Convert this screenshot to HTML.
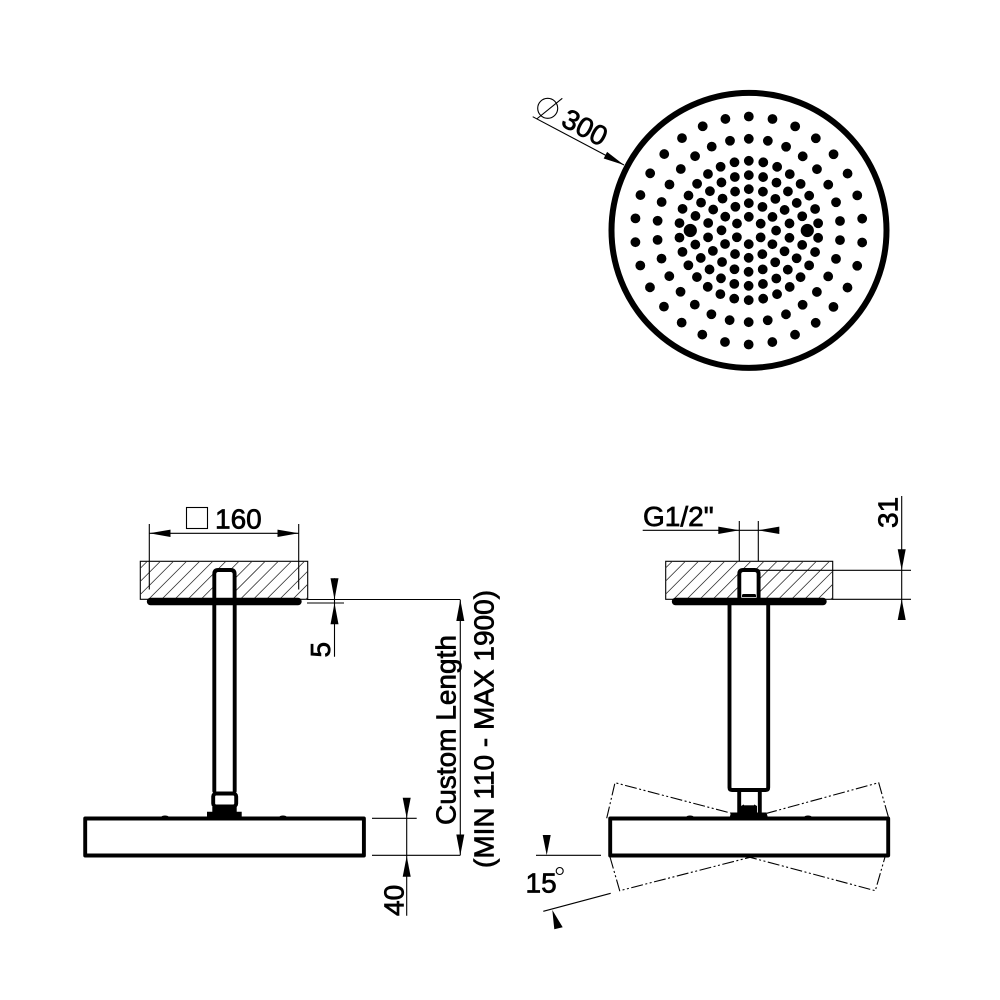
<!DOCTYPE html>
<html>
<head>
<meta charset="utf-8">
<style>
html,body{margin:0;padding:0;background:#fff;}
svg{display:block;}
text{font-family:"Liberation Sans",sans-serif;font-size:28px;fill:#000;stroke:#000;stroke-width:.7;}
.t{stroke:#000;stroke-width:1.1;fill:none;}
.h{stroke:#333;stroke-width:.8;fill:none;}
.k{stroke:#000;stroke-width:3.9;fill:none;stroke-linejoin:round;stroke-linecap:round;}
.w{stroke:#000;stroke-width:3.9;fill:#fff;stroke-linejoin:round;}
.dd{stroke:#000;stroke-width:1.1;fill:none;stroke-dasharray:12 2.5 2 2.5 2 2.5;}
.d{fill:none;stroke:#000;stroke-linecap:round;stroke-width:9.8;}
</style>
</head>
<body>
<svg width="1000" height="1000" viewBox="0 0 1000 1000" xmlns="http://www.w3.org/2000/svg">
<defs>
<clipPath id="c1"><rect x="140.3" y="561.3" width="167.4" height="38"/></clipPath>
<clipPath id="c2"><rect x="665.7" y="561.3" width="167" height="38"/></clipPath>
</defs>
<rect width="1000" height="1000" fill="#fff"/>

<!-- top view -->
<circle cx="749" cy="230.4" r="137.5" fill="none" stroke="#000" stroke-width="6"/>
<g transform="rotate(-90 748.8 230.5)">
<circle class="d" cx="748.8" cy="230.5" r="114" stroke-dasharray="0 23.876"/>
<circle class="d" cx="748.8" cy="230.5" r="91.7" stroke-dasharray="0 19.206"/>
<circle class="d" cx="748.8" cy="230.5" r="69.7" stroke-dasharray="0 14.598"/>
<circle class="d" cx="748.8" cy="230.5" r="55.3" stroke-dasharray="0 14.478"/>
<circle class="d" cx="748.8" cy="230.5" r="41.3" stroke-dasharray="0 14.417"/>
<circle class="d" cx="748.8" cy="230.5" r="27.3" stroke-dasharray="0 14.294"/>
<circle class="d" cx="748.8" cy="230.5" r="13.7" stroke-dasharray="0 14.347"/>
</g>
<circle cx="693.5" cy="230.5" r="5.4" fill="#fff"/>
<circle cx="804.1" cy="230.5" r="5.4" fill="#fff"/>
<circle cx="690.3" cy="230.5" r="6.6" fill="#000"/>
<circle cx="807.3" cy="230.5" r="6.6" fill="#000"/>

<line class="t" x1="532.7" y1="116.7" x2="624" y2="165"/>
<polygon points="624,165 603.7,158.5 607.1,151.9" fill="#000"/>
<circle class="t" cx="547.7" cy="108.3" r="10"/>
<line class="t" x1="536.7" y1="119" x2="562.3" y2="98.3"/>
<text transform="translate(559.800 125) rotate(28)">300</text>

<!-- left elevation -->
<rect x="140.3" y="561.3" width="167.4" height="38" class="t"/>
<g clip-path="url(#c1)">
<path class="h" d="M147.6 561l-39 39M160.7 561l-39 39M173.8 561l-39 39M186.9 561l-39 39M200 561l-39 39M213.1 561l-39 39M226.2 561l-39 39M239.3 561l-39 39M252.4 561l-39 39M265.5 561l-39 39M278.6 561l-39 39M291.7 561l-39 39M304.8 561l-39 39M317.9 561l-39 39M331 561l-39 39M344.1 561l-39 39"/>
</g>
<path class="w" d="M214.3 598V574q0-4 4-4H230.6q4 0 4 4V598"/>
<line x1="150.5" y1="601.5" x2="298" y2="601.5" stroke="#000" stroke-width="7.400" stroke-linecap="round"/>
<path class="k" d="M214.3 605V791M234.7 605V791" stroke-linecap="butt"/>
<rect x="213.2" y="793.5" width="23" height="13" rx="3" class="w"/>
<path d="M212.3 807H236.7V811.7H241.7V818H207V811.7H212.3Z" fill="#000"/>
<rect x="85.2" y="818.5" width="278.7" height="37" class="w"/>
<ellipse cx="165" cy="816.7" rx="3.500" ry="1.200" fill="#000"/>
<ellipse cx="283" cy="816.7" rx="3.500" ry="1.200" fill="#000"/>

<!-- 160 -->
<path class="t" d="M149.3 524V589.5M298.7 524V589.5M149.3 533.3H298.7"/>
<polygon points="149.3,533.3 170.5,529.6 170.5,537" fill="#000"/>
<polygon points="298.7,533.3 277.5,529.6 277.5,537" fill="#000"/>
<rect x="186.5" y="507.5" width="21" height="21" class="t"/>
<text x="215" y="528.5">160</text>

<!-- 5 -->
<path class="t" d="M307 599.5H460M307 603H344M334.5 578.3V656.7"/>
<polygon points="334.5,599.5 330.5,578.3 338.5,578.3" fill="#000"/>
<polygon points="334.5,603 330.5,624.3 338.5,624.3" fill="#000"/>
<text transform="translate(330 657.5) rotate(-90)">5</text>

<!-- custom length -->
<path class="t" d="M460.3 599.5V855.3M372 855.3H460.3M372 818.3H416.7M406.7 798V915.7"/>
<polygon points="460.3,599.5 456.3,621 464.3,621" fill="#000"/>
<polygon points="460.3,855.3 456.3,834.5 464.3,834.5" fill="#000"/>
<polygon points="406.7,818.3 402.7,797.7 410.7,797.7" fill="#000"/>
<polygon points="406.7,856 402.7,876.7 410.7,876.7" fill="#000"/>
<text transform="translate(403.3 916) rotate(-90)">40</text>
<text transform="translate(455.7 825) rotate(-90)">Custom Length</text>
<text transform="translate(493.3 868) rotate(-90)">(MIN 110 - MAX 1900)</text>

<!-- right elevation -->
<rect x="665.7" y="561.3" width="167" height="38" class="t"/>
<g clip-path="url(#c2)">
<path class="h" d="M672.6 561l-39 39M685.7 561l-39 39M698.8 561l-39 39M711.9 561l-39 39M725 561l-39 39M738.1 561l-39 39M751.2 561l-39 39M764.3 561l-39 39M777.4 561l-39 39M790.5 561l-39 39M803.6 561l-39 39M816.7 561l-39 39M829.8 561l-39 39M842.9 561l-39 39M856 561l-39 39M869.1 561l-39 39"/>
</g>
<path class="w" d="M739.3 598V574q0-4 4-4H754.6q4 0 4 4V598"/>
<path d="M742 597V595.5q0-1.500 1.500-1.500H754.500q1.500 0 1.500 1.500V597Z" fill="#000"/>
<line x1="675.5" y1="601.5" x2="823" y2="601.5" stroke="#000" stroke-width="7.400" stroke-linecap="round"/>
<path class="k" d="M729.5 605V787.500q0 2.500 2.500 2.500H765.700q2.500 0 2.500-2.500V605"/>
<path class="k" d="M739.200 792V813M759.800 792V813" stroke-linecap="butt"/>
<path d="M741 806q8-5 16 0V813H741Z" fill="#000"/>
<rect x="744" y="803.500" width="10" height="1.800" fill="#fff"/>
<path d="M731 812.500H766.500L768 818H729.500Z" fill="#000"/>
<rect x="610.2" y="818.5" width="278" height="37" class="w"/>
<ellipse cx="690" cy="816.700" rx="3.500" ry="1.200" fill="#000"/>
<ellipse cx="808" cy="816.700" rx="3.500" ry="1.200" fill="#000"/>
<path class="dd" d="M606.700 818.300L615 782.700L731.700 813.300"/>
<path class="dd" d="M888.300 816.700L878.700 782.700L766.700 813.300"/>
<path class="dd" d="M610 857L619.700 890.700L750 857.300L875.300 890.700L885 857"/>

<!-- G1/2 -->
<path class="t" d="M642.700 530.300H779.300M739.300 521V561.300M758.300 521V561.300"/>
<polygon points="739.300,530.300 718.300,526.600 718.300,534" fill="#000"/>
<polygon points="758.300,530.300 779.300,526.600 779.300,534" fill="#000"/>
<text x="643" y="526">G1/2"</text>

<!-- 31 -->
<path class="t" d="M901.700 496V620M758 570.300H911M832.700 599.300H911"/>
<polygon points="901.700,570.300 897.700,549.300 905.700,549.300" fill="#000"/>
<polygon points="901.700,599.300 897.700,620 905.700,620" fill="#000"/>
<text transform="translate(897.500 528) rotate(-90)">31</text>

<!-- 15 deg -->
<path class="t" d="M536 855.300H601M543.300 911.300L610.700 893.300"/>
<polygon points="546.700,855.300 542.700,835 550.700,835" fill="#000"/>
<polygon points="552.300,910 554.300,929.300 562.700,927.300" fill="#000"/>
<text x="525.500" y="892.700">15</text>
<circle class="t" cx="559.700" cy="871" r="3.500"/>
</svg>
</body>
</html>
